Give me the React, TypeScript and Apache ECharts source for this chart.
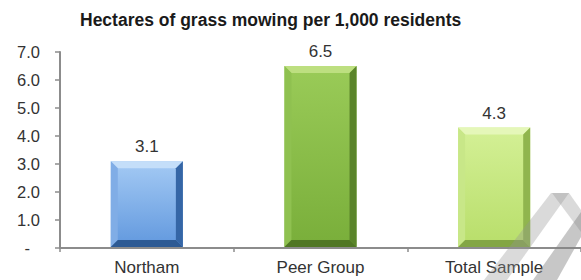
import React, { useEffect, useRef } from "react";
import * as echarts from "echarts";

const categories = ["Northam", "Peer Group", "Total Sample"];
const values = [3.1, 6.5, 4.3];
const yTicks = [0, 1, 2, 3, 4, 5, 6, 7];
// per bar: [face top, face bottom, top bevel, left bevel, right bevel, bottom bevel]
const barPalettes = [
  ["#a4caf4", "#6198de", "#c4def9", "#80ade6", "#3566a6", "#2d5a94"],
  ["#9acb58", "#79ae3a", "#bddf80", "#8fc150", "#5a842a", "#507724"],
  ["#d4f096", "#b8de6a", "#e5f7b9", "#c8e788", "#90b54e", "#83a644"],
];

const FONT = "'Liberation Sans', Arial, sans-serif";

export default function App() {
  const ref = useRef<HTMLDivElement>(null);
  useEffect(() => {
    if (!ref.current) return;
    const chart = echarts.init(ref.current, null, { renderer: "svg" });
    const data = values.map((v, i) => [i, v]);
    chart.setOption({
      animation: false,
      backgroundColor: "#ffffff",
      title: {
        text: "Hectares of grass mowing per 1,000 residents",
        left: 80,
        top: 11,
        padding: 0,
        textStyle: { fontFamily: FONT, fontSize: 17.5, fontWeight: "bold", color: "#1a1a1a" },
      },
      grid: { left: 60, top: 52, width: 524, height: 196, containLabel: false },
      xAxis: {
        type: "category",
        data: categories,
        boundaryGap: true,
        axisLine: { show: true, lineStyle: { color: "#8c8c8c", width: 2 } },
        axisTick: { show: true, length: 4, lineStyle: { color: "#8c8c8c", width: 1.5 } },
        axisLabel: { fontFamily: FONT, fontSize: 17, color: "#333333", margin: 11 },
      },
      yAxis: {
        type: "value",
        min: yTicks[0],
        max: yTicks[yTicks.length - 1],
        interval: 1,
        splitLine: { show: false },
        axisLine: { show: true, lineStyle: { color: "#8c8c8c", width: 2 } },
        axisTick: { show: true, length: 5, lineStyle: { color: "#8c8c8c", width: 1.5 } },
        axisLabel: {
          fontFamily: FONT,
          fontSize: 16.5,
          color: "#333333",
          margin: 20,
          formatter: (v: number) => (v === 0 ? "{d|-}" : v.toFixed(1)),
          rich: { d: { fontFamily: FONT, fontSize: 16.5, color: "#333333", padding: [0, 10, 0, 0] } },
        },
      },
      series: [
        {
          type: "custom",
          data,
          encode: { x: 0, y: 1 },
          renderItem: (params: any, api: any) => {
            const idx = api.value(0);
            const val = api.value(1);
            const top = api.coord([idx, val]);
            const bottom = api.coord([idx, 0]);
            const w = api.size([1, 0])[0] * 0.415;
            const x0 = top[0] - w / 2;
            const x1 = top[0] + w / 2;
            const y0 = top[1];
            const y1 = bottom[1] - 1;
            const b = 7;
            const p = barPalettes[params.dataIndex];
            return {
              type: "group",
              children: [
                {
                  type: "rect",
                  shape: { x: x0, y: y0, width: w, height: y1 - y0 },
                  style: {
                    fill: new echarts.graphic.LinearGradient(0, 0, 0, 1, [
                      { offset: 0, color: p[0] },
                      { offset: 1, color: p[1] },
                    ]),
                  },
                },
                {
                  type: "polygon",
                  shape: { points: [[x0, y0], [x1, y0], [x1 - b, y0 + b], [x0 + b, y0 + b]] },
                  style: { fill: p[2] },
                },
                {
                  type: "polygon",
                  shape: { points: [[x0, y0], [x0 + b, y0 + b], [x0 + b, y1 - b], [x0, y1]] },
                  style: { fill: p[3] },
                },
                {
                  type: "polygon",
                  shape: { points: [[x1, y0], [x1, y1], [x1 - b, y1 - b], [x1 - b, y0 + b]] },
                  style: { fill: p[4] },
                },
                {
                  type: "polygon",
                  shape: { points: [[x0, y1], [x0 + b, y1 - b], [x1 - b, y1 - b], [x1, y1]] },
                  style: { fill: p[5] },
                },
                {
                  type: "text",
                  x: top[0],
                  y: y0 - 6,
                  style: {
                    text: val.toFixed(1),
                    fontFamily: FONT,
                    fontSize: 17,
                    fill: "#333333",
                    align: "center",
                    verticalAlign: "bottom",
                  },
                },
              ],
            };
          },
        },
      ],
      graphic: [
        {
          type: "polygon",
          shape: { points: [[551, 193], [569, 193], [507, 280], [484, 280]] },
          style: { fill: "rgba(150,150,150,0.35)" },
          z: 100,
        },
        {
          type: "polygon",
          shape: { points: [[552, 193], [569, 193], [581, 210], [581, 232]] },
          style: { fill: "rgba(150,150,150,0.35)" },
          z: 100,
        },
        {
          type: "polygon",
          shape: { points: [[581, 212], [581, 237], [557, 280], [533, 280]] },
          style: { fill: "rgba(130,130,130,0.45)" },
          z: 100,
        },
      ],
    });
    return () => chart.dispose();
  }, []);
  return <div ref={ref} style={{ width: 581, height: 280, position: "absolute", left: 0, top: 0 }} />;
}
